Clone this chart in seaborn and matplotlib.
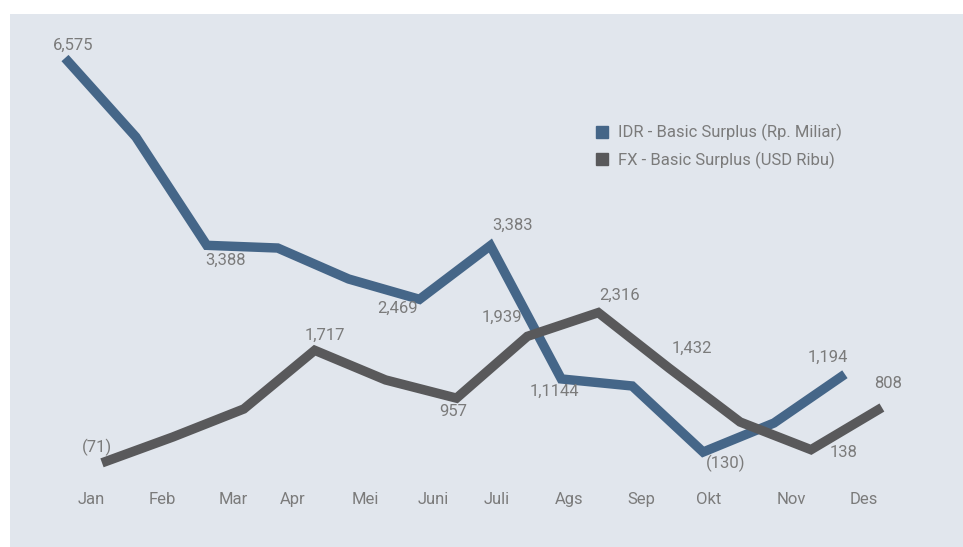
import matplotlib
matplotlib.use("Agg")
import matplotlib.pyplot as plt
from matplotlib.lines import Line2D
from matplotlib.patches import Rectangle
import pandas as pd
import seaborn as sns

# ---------------- data ----------------
months = ["Jan", "Feb", "Mar", "Apr", "Mei", "Juni", "Juli", "Ags", "Sep", "Okt", "Nov", "Des"]
idr_values = [6575, 5231, 3388, 3342, 2815, 2469, 3383, 1114, 994, -130, 364, 1194]
fx_values = [-71, 340, 785, 1717, 1246, 957, 1939, 2316, 1432, 578, 138, 808]
idr_labels = ["6,575", None, "3,388", None, None, "2,469", "3,383", "1,1144", None, "(130)", None, "1,194"]
fx_labels = ["(71)", None, None, "1,717", None, "957", "1,939", "2,316", "1,432", None, "138", "808"]
series_names = ["IDR - Basic Surplus (Rp. Miliar)", "FX - Basic Surplus (USD Ribu)"]

# ---------------- style / layout ----------------
W, H, DPI = 963, 547, 100
BG = "#e1e6ed"
C_IDR = "#456688"
C_FX = "#59595b"
TXT = "#7b7b7b"
FS = 12
PX_PER_MONTH = 70.9
X0_PX = 91
IDR_SHIFT_PX = -26
FX_SHIFT_PX = 11
TICK_PX = [91, 162, 233, 293, 365, 433, 497, 569, 641, 709, 791, 864]
AX_BOTTOM_PX = 485
IDR_YLIM = (-691, 7563)
FX_YLIM = (-423, 7283)
IDR_OFFS = [(8, -13), None, (19, 15), None, None, (-22, 9), (22, -20), (-7, 12), None, (23, 11), None, (-17, -17)]
FX_OFFS = [(-5, -15), None, None, (10, -15), None, (-3, 13), (-25, -19), (21, -17), (23, -20), None, (33, 3), (6, -24)]

sns.set_theme(style="white")
plt.rcParams["font.family"] = ["Roboto", "DejaVu Sans"]

fig = plt.figure(figsize=(W / DPI, H / DPI), dpi=DPI, facecolor="white")
fig.patches.append(Rectangle((10 / W, 0), 1 - 10 / W, 1 - 14 / H, transform=fig.transFigure,
                             facecolor=BG, edgecolor="none", zorder=-10))

ax = fig.add_axes([0, (H - AX_BOTTOM_PX) / H, 1, AX_BOTTOM_PX / H])
ax.set_facecolor("none")
ax2 = ax.twinx()
ax2.set_facecolor("none")

idx = list(range(len(months)))
df = pd.DataFrame({
    "month": months,
    "x_idr": [i + IDR_SHIFT_PX / PX_PER_MONTH for i in idx],
    "x_fx": [i + FX_SHIFT_PX / PX_PER_MONTH for i in idx],
    "idr": idr_values,
    "fx": fx_values,
})

line_kw = dict(linewidth=6.8, solid_capstyle="butt", solid_joinstyle="miter", legend=False)
sns.lineplot(data=df, x="x_idr", y="idr", ax=ax, color=C_IDR, sort=False, **line_kw)
sns.lineplot(data=df, x="x_fx", y="fx", ax=ax2, color=C_FX, sort=False, **line_kw)

xlim = (-X0_PX / PX_PER_MONTH, (W - X0_PX) / PX_PER_MONTH)
for a in (ax, ax2):
    a.set_xlim(*xlim)
    for s in a.spines.values():
        s.set_visible(False)
    a.set_xlabel("")
    a.set_ylabel("")
    a.set_yticks([])
    a.grid(False)
ax.set_ylim(*IDR_YLIM)
ax2.set_ylim(*FX_YLIM)

ax.set_xticks([(p - X0_PX) / PX_PER_MONTH for p in TICK_PX])
ax.set_xticklabels(months, color=TXT, fontsize=FS)
ax.tick_params(axis="x", length=0, pad=5)

for a, xs, vals, labs, offs in ((ax, df["x_idr"], idr_values, idr_labels, IDR_OFFS),
                                (ax2, df["x_fx"], fx_values, fx_labels, FX_OFFS)):
    for xv, v, lab, off in zip(xs, vals, labs, offs):
        if lab is None:
            continue
        a.annotate(lab, xy=(xv, v), xytext=(off[0], -off[1]), textcoords="offset pixels",
                   ha="center", va="center", color=TXT, fontsize=FS)

handles = [Line2D([], [], marker="s", linestyle="", color=C_IDR, markersize=8.6),
           Line2D([], [], marker="s", linestyle="", color=C_FX, markersize=8.6)]
fig.legend(handles=handles, labels=series_names, loc="upper left",
           bbox_to_anchor=(595 / W, 1 - 124 / H), frameon=False, fontsize=FS,
           labelcolor=TXT, handlelength=0.8, handletextpad=0.55, labelspacing=0.6,
           borderpad=0, borderaxespad=0)

fig.savefig("out.png", dpi=DPI, facecolor="white")
